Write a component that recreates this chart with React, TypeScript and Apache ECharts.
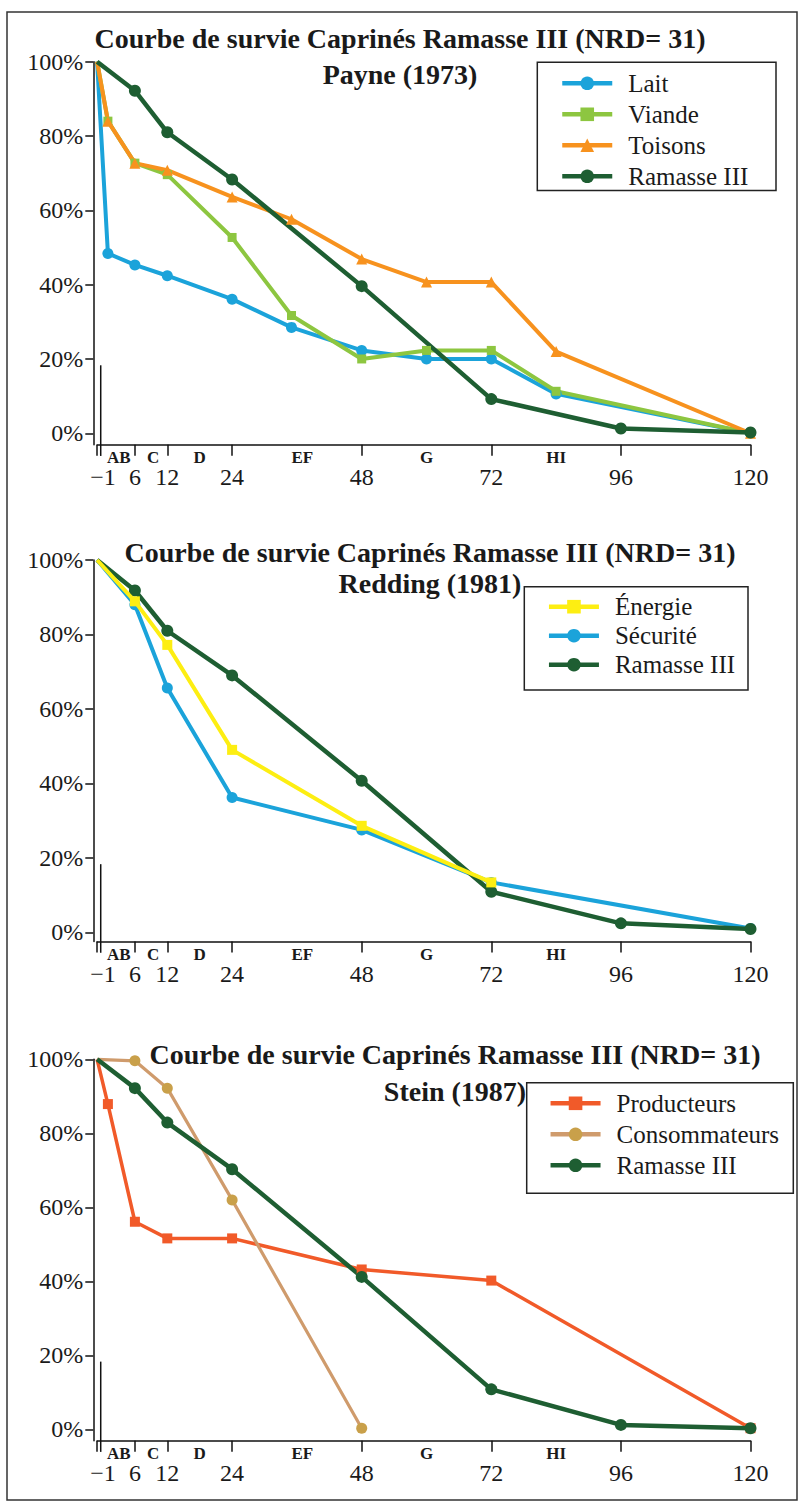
import React, { useEffect, useRef } from 'react';
import * as echarts from 'echarts';

const FONT = '"Liberation Serif", "Times New Roman", serif';
const INK = '#1a1a1a';

const mainTitle = 'Courbe de survie Caprinés Ramasse III (NRD= 31)';
const subTitles = ['Payne (1973)', 'Redding (1981)', 'Stein (1987)'];

const monthTicks = [-1, 6, 12, 24, 48, 72, 96, 120];
const pctTicks = [0, 20, 40, 60, 80, 100];
const stageNames = ['AB', 'C', 'D', 'EF', 'G', 'HI'];
const stageCenters = [3, 9.4, 18, 37, 60, 84];

// Payne (1973)
const laitX = [-1, 1, 6, 12, 24, 35, 48, 60, 72, 84, 120];
const laitY = [100, 48.4, 45.3, 42.4, 36.1, 28.5, 22.3, 20, 20, 10.6, 0];
const viandeX = [-1, 1, 6, 12, 24, 35, 48, 60, 72, 84, 120];
const viandeY = [100, 84, 72.7, 69.6, 52.7, 31.7, 20, 22.3, 22.3, 11.3, 0];
const toisonsX = [-1, 1, 6, 12, 24, 35, 48, 60, 72, 84, 120];
const toisonsY = [100, 84, 72.7, 70.8, 63.6, 57.6, 46.9, 40.7, 40.7, 22, 0];
const ramPayneX = [-1, 6, 12, 24, 48, 72, 96, 120];
const ramPayneY = [100, 92.2, 81, 68.3, 39.6, 9.2, 1.3, 0.2];

// Redding (1981)
const energieX = [-1, 6, 12, 24, 48, 72];
const energieY = [100, 88.9, 77.2, 49, 28.6, 13.4];
const securiteX = [-1, 6, 12, 24, 48, 72, 120];
const securiteY = [100, 88, 65.6, 36.2, 27.5, 13.4, 1];
const ramReddingX = [-1, 6, 12, 24, 48, 72, 96, 120];
const ramReddingY = [100, 91.8, 81, 69, 40.7, 10.9, 2.4, 0.9];

// Stein (1987)
const prodX = [-1, 1, 6, 12, 24, 48, 72, 120];
const prodY = [100, 87.9, 56.1, 51.6, 51.6, 43.2, 40.2, 0.3];
const consoX = [-1, 6, 12, 24, 48];
const consoY = [100, 99.6, 92.2, 62, 0.3];
const ramSteinX = [-1, 6, 12, 24, 48, 72, 96, 120];
const ramSteinY = [100, 92.2, 82.9, 70.3, 41.2, 10.8, 1.2, 0.3];

// small frame stub next to the axis origin (x, top value)
const stubX = -0.33;
const stubTop = 18.3;

const BLUE = '#1BA3DA';
const VIANDE = '#8DC640';
const TOISONS = '#F7921E';
const RAMASSE = '#1E5E32';
const ENERGIE = '#FDEE12';
const PROD = '#F15A29';
const CONSO = '#CF9B6C';
const CONSO_MK = '#C9A04A';

type SeriesDef = {
  name: string; xs: number[]; ys: number[]; color: string; symbol: string;
  size: number; width: number; marker?: string; z?: number;
};

const panels: { series: SeriesDef[] }[] = [
  {
    series: [
      { name: 'Lait', xs: laitX, ys: laitY, color: BLUE, symbol: 'circle', size: 11, width: 4 },
      { name: 'Viande', xs: viandeX, ys: viandeY, color: VIANDE, symbol: 'rect', size: 9, width: 4 },
      { name: 'Toisons', xs: toisonsX, ys: toisonsY, color: TOISONS, symbol: 'triangle', size: 11, width: 4 },
      { name: 'Ramasse III', xs: ramPayneX, ys: ramPayneY, color: RAMASSE, symbol: 'circle', size: 12, width: 4.5 },
    ],
  },
  {
    series: [
      { name: 'Énergie', xs: energieX, ys: energieY, color: ENERGIE, symbol: 'rect', size: 10, width: 4, z: 5 },
      { name: 'Sécurité', xs: securiteX, ys: securiteY, color: BLUE, symbol: 'circle', size: 11, width: 4, z: 3 },
      { name: 'Ramasse III', xs: ramReddingX, ys: ramReddingY, color: RAMASSE, symbol: 'circle', size: 12, width: 4.5, z: 4 },
    ],
  },
  {
    series: [
      { name: 'Producteurs', xs: prodX, ys: prodY, color: PROD, symbol: 'rect', size: 10, width: 3.5 },
      { name: 'Consommateurs', xs: consoX, ys: consoY, color: CONSO, marker: CONSO_MK, symbol: 'circle', size: 11, width: 3.2 },
      { name: 'Ramasse III', xs: ramSteinX, ys: ramSteinY, color: RAMASSE, symbol: 'circle', size: 12, width: 4.5 },
    ],
  },
];

// layout (pixels)
const GRID_LEFT = 97.1;
const GRID_WIDTH = 653.4;
const layouts = [
  { top: 61.7, height: 383.1, ymin: -3.1, stubBottom: -6.1, tx: 400, t1: 38, t2: 74,
    legend: { left: 560, top: 70.8, gap: 6 }, box: [537.3, 62.2, 776, 190.5] },
  { top: 560, height: 381.6, ymin: -2.5, stubBottom: -5.5, tx: 430, t1: 552, t2: 583,
    legend: { left: 546.7, top: 594.2, gap: 4 }, box: [524.3, 586.7, 748, 690] },
  { top: 1059.3, height: 381.5, ymin: -3.1, stubBottom: -6.1, tx: 455, t1: 1054, t2: 1091,
    legend: { left: 548.3, top: 1090.8, gap: 6 }, box: [526.7, 1082.7, 793.3, 1193.3] },
];

function pts(xs: number[], ys: number[]) {
  return xs.map((x, i) => (i === 0 ? { value: [x, ys[i]], symbol: 'none' } : [x, ys[i]]));
}

function nearestStage(v: number) {
  let best = 0;
  for (let i = 1; i < stageCenters.length; i++) {
    if (Math.abs(stageCenters[i] - v) < Math.abs(stageCenters[best] - v)) best = i;
  }
  return stageNames[best];
}

export default function App() {
  const ref = useRef<HTMLDivElement>(null);
  useEffect(() => {
    const chart = echarts.init(ref.current!, null, { renderer: 'svg', width: 800, height: 1502 });
    const axisLine = { color: '#111', width: 1.5 };
    const grid: any[] = [];
    const xAxis: any[] = [];
    const yAxis: any[] = [];
    const series: any[] = [];
    const legend: any[] = [];
    const elements: any[] = [
      { type: 'rect', silent: true, shape: { x: 7, y: 12, width: 790, height: 1488 },
        style: { fill: 'none', stroke: '#333', lineWidth: 1.5 } },
    ];

    layouts.forEach((l, i) => {
      grid.push({ left: GRID_LEFT, width: GRID_WIDTH, top: l.top, height: l.height });
      xAxis.push({
        type: 'value', gridIndex: i, min: -1, max: 120, position: 'bottom', offset: 0,
        axisLine: { show: true, onZero: false, lineStyle: axisLine },
        axisTick: { show: true, length: 11, customValues: monthTicks, lineStyle: axisLine },
        axisLabel: {
          customValues: monthTicks, margin: 20, fontFamily: FONT, fontSize: 24, color: INK,
          formatter: (v: number) => (v === -1 ? '{m|−1}' : String(v)),
          rich: { m: { padding: [0, 0, 0, 12], fontFamily: FONT, fontSize: 24, color: INK } },
        },
        splitLine: { show: false },
      });
      xAxis.push({
        type: 'value', gridIndex: i, min: -1, max: 120, position: 'bottom', offset: 0,
        axisLine: { show: false }, axisTick: { show: false },
        axisLabel: {
          customValues: stageCenters, margin: 4.5, fontFamily: FONT, fontSize: 17,
          fontWeight: 'bold', color: INK, formatter: (v: number) => nearestStage(v),
        },
        splitLine: { show: false },
      });
      yAxis.push({
        type: 'value', gridIndex: i, min: l.ymin, max: 100, offset: 3.8,
        axisLine: { show: true, onZero: false, lineStyle: axisLine },
        axisTick: { show: true, length: 8, customValues: pctTicks, lineStyle: axisLine },
        axisLabel: {
          customValues: pctTicks, margin: 10, fontFamily: FONT, fontSize: 24, color: INK,
          formatter: (v: number) => `${v}%`,
        },
        splitLine: { show: false },
      });
      series.push({
        type: 'line', name: `stub${i}`, xAxisIndex: i * 2, yAxisIndex: i,
        data: [[stubX, stubTop], [stubX, l.stubBottom]], symbol: 'none', clip: false,
        lineStyle: { color: '#111', width: 1.5 }, silent: true, z: 1,
      });
      panels[i].series.forEach((s) => {
        series.push({
          type: 'line', name: s.name, xAxisIndex: i * 2, yAxisIndex: i,
          data: pts(s.xs, s.ys), symbol: s.symbol, symbolSize: s.size, showAllSymbol: true,
          clip: false, silent: true, z: s.z ?? 2,
          lineStyle: { color: s.color, width: s.width },
          itemStyle: { color: s.marker ?? s.color, borderWidth: 0 },
          emphasis: { disabled: true },
        });
      });
      legend.push({
        data: panels[i].series.map((s) => s.name), orient: 'vertical',
        left: l.legend.left, top: l.legend.top, itemGap: l.legend.gap,
        itemWidth: 50, itemHeight: 17, selectedMode: false, padding: 0,
        lineStyle: { width: 4.5 },
        textStyle: { fontFamily: FONT, fontSize: 25, color: INK, padding: [0, 0, 0, 11] },
      });
      const [bx0, by0, bx1, by1] = l.box;
      elements.push({
        type: 'rect', silent: true, shape: { x: bx0, y: by0, width: bx1 - bx0, height: by1 - by0 },
        style: { fill: 'none', stroke: '#222', lineWidth: 1.5 },
      });
      elements.push({
        type: 'text', silent: true, x: l.tx, y: l.t1,
        style: { text: mainTitle, fontFamily: FONT, fontSize: 28, fontWeight: 'bold', fill: INK,
          align: 'center', verticalAlign: 'middle' },
      });
      elements.push({
        type: 'text', silent: true, x: l.tx, y: l.t2,
        style: { text: subTitles[i], fontFamily: FONT, fontSize: 28, fontWeight: 'bold', fill: INK,
          align: 'center', verticalAlign: 'middle' },
      });
    });

    chart.setOption({
      animation: false,
      backgroundColor: '#ffffff',
      grid, xAxis, yAxis, series, legend,
      graphic: { elements },
    });
    return () => chart.dispose();
  }, []);
  return (
    <div
      ref={ref}
      style={{ position: 'absolute', left: 0, top: 0, width: 800, height: 1502, background: '#fff' }}
    />
  );
}
